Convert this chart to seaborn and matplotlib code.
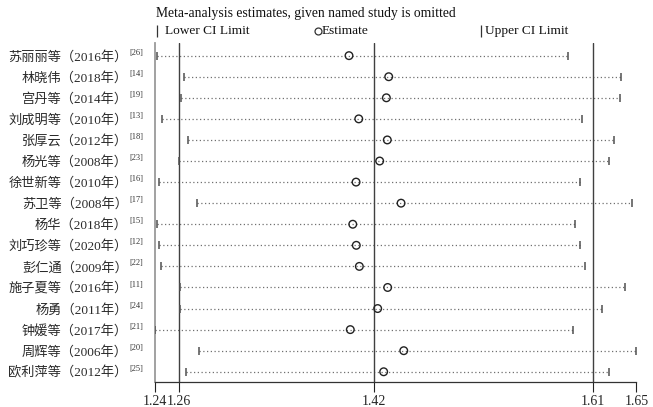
import numpy as np
import pandas as pd
import matplotlib
matplotlib.use("Agg")
import matplotlib.pyplot as plt
import matplotlib.transforms as mtransforms
from matplotlib.lines import Line2D
import seaborn as sns

# Studies, in the order shown (top to bottom)
studies = [
    "苏丽丽等（2016年）", "林晓伟（2018年）", "宫丹等（2014年）", "刘成明等（2010年）",
    "张厚云（2012年）", "杨光等（2008年）", "徐世新等（2010年）", "苏卫等（2008年）",
    "杨华（2018年）", "刘巧珍等（2020年）", "彭仁通（2009年）", "施子夏等（2016年）",
    "杨勇（2011年）", "钟媛等（2017年）", "周辉等（2006年）", "欧利萍等（2012年）",
]
refs = ["[26]", "[14]", "[19]", "[13]", "[18]", "[23]", "[16]", "[17]",
        "[15]", "[12]", "[22]", "[11]", "[24]", "[21]", "[20]", "[25]"]

# Estimates with the named study omitted
lower = [1.2394, 1.2624, 1.2599, 1.2442, 1.2663, 1.2582, 1.2411, 1.2735,
         1.2397, 1.2411, 1.2434, 1.2589, 1.2595, 1.2380, 1.2752, 1.2641]
estimate = [1.4031, 1.4369, 1.4349, 1.4114, 1.4357, 1.4292, 1.4091, 1.4474,
            1.4063, 1.4093, 1.4119, 1.4360, 1.4275, 1.4042, 1.4497, 1.4326]
upper = [1.5892, 1.6349, 1.6340, 1.6017, 1.6286, 1.6244, 1.6000, 1.6442,
         1.5952, 1.6000, 1.6040, 1.6383, 1.6187, 1.5940, 1.6476, 1.6241]

# Overall pooled result (lower CI, estimate, upper CI)
overall = [1.2587, 1.4241, 1.6110]

df = pd.DataFrame({"study": studies, "lower": lower, "est": estimate, "upper": upper})

sns.set_theme(style="white")
plt.rcParams["font.family"] = ["Liberation Serif", "Noto Sans CJK SC"]

W, H = 653, 407
fig = plt.figure(figsize=(W / 100, H / 100), dpi=100)
ax = fig.add_axes([155 / W, 1 - 382.3 / H, (636.3 - 155) / W, (382.3 - 43) / H])

# dotted CI lines
ax.hlines(df["study"], df["lower"], df["upper"], colors="#707070",
          linestyles=(0, (1, 2)), linewidth=0.9, zorder=1)

# overall reference lines
for v in overall:
    ax.axvline(v, color="#404040", linewidth=1.0, zorder=2)

# CI limit ticks and estimates
sns.scatterplot(data=df, x="lower", y="study", marker="|", s=36, color="#505050",
                linewidth=1.1, ax=ax, zorder=3)
sns.scatterplot(data=df, x="upper", y="study", marker="|", s=36, color="#505050",
                linewidth=1.1, ax=ax, zorder=3)
sns.scatterplot(data=df, x="est", y="study", marker="o", s=30, facecolor="none",
                edgecolor="#222222", linewidth=1.0, ax=ax, zorder=4)

xmin, xmax = min(lower), max(upper)
ax.set_xlim(xmin, xmax)
ax.set_ylim(len(studies) - 0.5, -0.6)
xt = [xmin] + overall + [xmax]
ax.set_xticks(xt)
ax.set_xticklabels([f"{v:.2f}" for v in xt], fontsize=10)
ax.tick_params(axis="x", direction="out", length=7, width=0.8, color="#222222",
               pad=2, bottom=True)
ax.tick_params(axis="y", length=0, pad=19.6, labelsize=9.5, labelcolor="#2a2a2a")
ax.set_xlabel("")
ax.set_ylabel("")

for s in ["top", "right"]:
    ax.spines[s].set_visible(False)
ax.spines["left"].set_color("#9a9a9a")
ax.spines["left"].set_linewidth(1.3)
ax.spines["bottom"].set_color("#333333")
ax.spines["bottom"].set_linewidth(0.9)

# superscript reference numbers
tr = mtransforms.blended_transform_factory(fig.transFigure, ax.transData)
for i, r in enumerate(refs):
    ax.text(129.5 / W, i - 0.14, r, transform=tr, fontsize=6, ha="left", va="center",
            color="#333333")

# title and legend
fig.text(156 / W, 1 - 13 / H, "Meta-analysis estimates, given named study is omitted",
         fontsize=9.8, ha="left", va="center", color="#111111")
leg = [(157, 165, "|", "Lower CI Limit"), (318, 322, "o", "Estimate"),
       (480.5, 485, "|", "Upper CI Limit")]
for mx, tx, mk, lab in leg:
    y = 1 - 31 / H
    fig.add_artist(Line2D([mx / W], [y], marker=mk, markersize=8 if mk == "|" else 5,
                          markerfacecolor="none", markeredgecolor="#333333",
                          markeredgewidth=0.9, linestyle="none", transform=fig.transFigure))
    fig.text(tx / W, y, lab, fontsize=9.6, ha="left", va="center", color="#111111")

fig.savefig("out.png", dpi=100)
